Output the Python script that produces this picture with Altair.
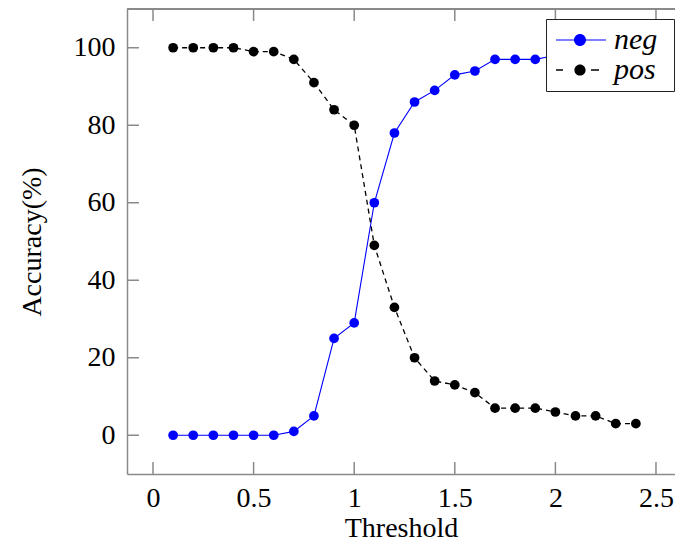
import altair as alt
import pandas as pd

# ---------------- data ----------------
thresholds = [0.1, 0.2, 0.3, 0.4, 0.5, 0.6, 0.7, 0.8, 0.9, 1.0, 1.1, 1.2,
              1.3, 1.4, 1.5, 1.6, 1.7, 1.8, 1.9, 2.0, 2.1, 2.2, 2.3, 2.4]
neg_acc = [0, 0, 0, 0, 0, 0, 1, 5, 25, 29, 60, 78,
           86, 89, 93, 94, 97, 97, 97, 98, 98, 99, 99, 99]
pos_acc = [100, 100, 100, 100, 99, 99, 97, 91, 84, 80, 49, 33,
           20, 14, 13, 11, 7, 7, 7, 6, 5, 5, 3, 3]
series_names = ["neg", "pos"]
series_colors = ["#0000ff", "#000000"]
x_ticks = [0, 0.5, 1, 1.5, 2, 2.5]
y_ticks = [0, 20, 40, 60, 80, 100]

# legend glyphs (line + marker), unit space of the legend symbol
neg_glyph = ("M-0.786,-0.036L2.786,-0.036L2.786,0.036L-0.786,0.036Z"
             "M1.359,0A0.43,0.43,0,1,1,0.499,0A0.43,0.43,0,1,1,1.359,0Z"
             "M7.2,0")
pos_glyph = ("M-0.786,-0.045L-0.286,-0.045L-0.286,0.045L-0.786,0.045Z"
             "M1.714,-0.045L2.286,-0.045L2.286,0.045L1.714,0.045Z"
             "M1.329,0A0.4,0.4,0,1,1,0.529,0A0.4,0.4,0,1,1,1.329,0Z"
             "M7.2,0")

df = pd.DataFrame({
    "threshold": thresholds * 2,
    "accuracy": neg_acc + pos_acc,
    "series": ["neg"] * len(thresholds) + ["pos"] * len(thresholds),
})
xt = pd.DataFrame({"threshold": x_ticks})
yt = pd.DataFrame({"accuracy": y_ticks})

W, H = 548, 465
FONT = "Liberation Serif"
FRAME = "#8a8a8a"

xs = alt.Scale(domain=[-0.1292, 2.5945], nice=False, zero=False)
ys = alt.Scale(domain=[-10, 110], nice=False, zero=False)

x_axis = alt.Axis(values=x_ticks, format="~g", ticks=False, tickSize=0, grid=False,
                  domain=True, domainColor=FRAME, domainWidth=1.5,
                  labelFont=FONT, labelFontSize=28, labelColor="#000",
                  labelPadding=10, title="Threshold", titleFont=FONT,
                  titleFontSize=28, titleFontWeight="normal", titleColor="#000",
                  titlePadding=2)
y_axis = alt.Axis(values=y_ticks, ticks=False, tickSize=0, grid=False,
                  domain=True, domainColor=FRAME, domainWidth=1.5,
                  labelFont=FONT, labelFontSize=28, labelColor="#000",
                  labelPadding=12, title="Accuracy(%)", titleFont=FONT,
                  titleFontSize=28, titleFontWeight="normal", titleColor="#000",
                  titlePadding=27)

base = alt.Chart(df)

neg_line = base.transform_filter(alt.datum.series == "neg").mark_line(
    color="#0000ff", strokeWidth=1.1
).encode(
    x=alt.X("threshold:Q", scale=xs, axis=x_axis),
    y=alt.Y("accuracy:Q", scale=ys, axis=y_axis),
)
pos_line = base.transform_filter(alt.datum.series == "pos").mark_line(
    color="#000000", strokeWidth=1.3, strokeDash=[5, 4]
).encode(
    x=alt.X("threshold:Q", scale=xs),
    y=alt.Y("accuracy:Q", scale=ys),
)
neg_pts = base.transform_filter(alt.datum.series == "neg").mark_circle(
    color="#0000ff", size=95, opacity=1
).encode(
    x=alt.X("threshold:Q", scale=xs),
    y=alt.Y("accuracy:Q", scale=ys),
)
pos_pts = base.transform_filter(alt.datum.series == "pos").mark_circle(
    color="#000000", size=95, opacity=1
).encode(
    x=alt.X("threshold:Q", scale=xs),
    y=alt.Y("accuracy:Q", scale=ys),
)

leg = alt.Legend(orient="none", legendX=419, legendY=10, padding=6,
                 strokeColor="#222", fillColor="white", cornerRadius=0,
                 labelFont=FONT, labelFontStyle="italic", labelFontSize=30,
                 labelColor="#000", labelOffset=32, rowPadding=0,
                 symbolSize=784, symbolStrokeWidth=0, symbolOpacity=1)
legend_layer = base.transform_filter("false").mark_point(
    filled=True, size=784
).encode(
    x=alt.X("threshold:Q", scale=xs),
    y=alt.Y("accuracy:Q", scale=ys),
    color=alt.Color("series:N", title=None,
                    scale=alt.Scale(domain=series_names, range=series_colors),
                    legend=leg),
    shape=alt.Shape("series:N", title=None,
                    scale=alt.Scale(domain=series_names, range=[neg_glyph, pos_glyph]),
                    legend=leg),
)

# inward tick marks and the top frame line
tick_style = dict(color=FRAME, strokeWidth=1.5)
bottom_ticks = alt.Chart(xt).mark_rule(**tick_style).encode(
    x=alt.X("threshold:Q", scale=xs), y=alt.value(H), y2=alt.value(H - 12))
top_ticks = alt.Chart(xt).mark_rule(**tick_style).encode(
    x=alt.X("threshold:Q", scale=xs), y=alt.value(0), y2=alt.value(12))
left_ticks = alt.Chart(yt).mark_rule(**tick_style).encode(
    y=alt.Y("accuracy:Q", scale=ys), x=alt.value(0), x2=alt.value(12))
top_line = alt.Chart(xt).mark_rule(color=FRAME, strokeWidth=1.5).encode(
    x=alt.value(0), x2=alt.value(W), y=alt.value(0))

chart = alt.layer(
    neg_line, pos_line, neg_pts, pos_pts,
    bottom_ticks, top_ticks, left_ticks, top_line,
    legend_layer,
).properties(
    width=W, height=H,
    padding={"left": 119, "top": 1, "right": 0, "bottom": 71},
    autosize=alt.AutoSizeParams(type="none"),
).configure_view(stroke="transparent").configure_legend(
    labelFont=FONT, labelFontStyle="italic"
)

chart.save("out.html", embed_options={"renderer": "svg", "actions": False})
